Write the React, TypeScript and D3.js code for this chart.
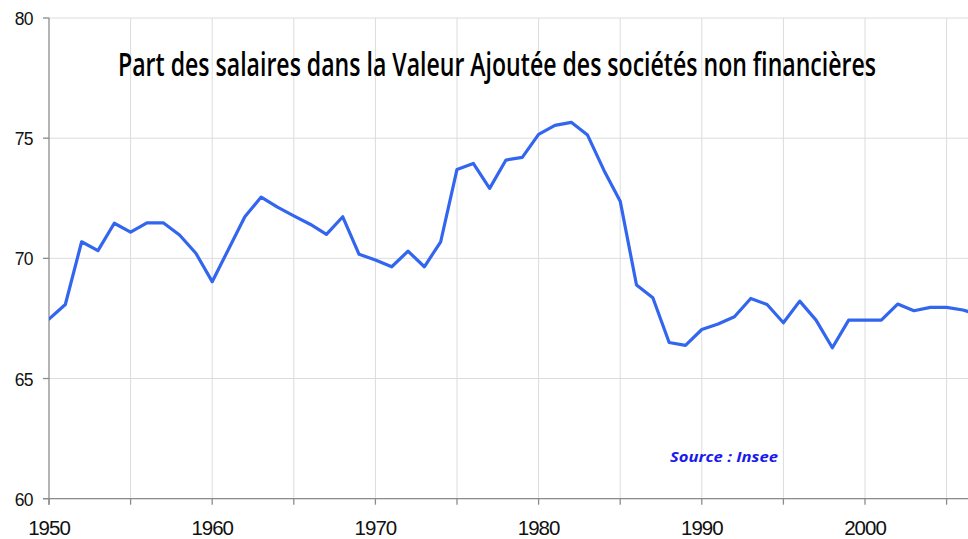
import React from "react";
import * as d3 from "d3";

const years: number[] = [
  1950, 1951, 1952, 1953, 1954, 1955, 1956, 1957, 1958, 1959,
  1960, 1961, 1962, 1963, 1964, 1965, 1966, 1967, 1968, 1969,
  1970, 1971, 1972, 1973, 1974, 1975, 1976, 1977, 1978, 1979,
  1980, 1981, 1982, 1983, 1984, 1985, 1986, 1987, 1988, 1989,
  1990, 1991, 1992, 1993, 1994, 1995, 1996, 1997, 1998, 1999,
  2000, 2001, 2002, 2003, 2004, 2005, 2006, 2007,
];
const salaryShare: number[] = [
  67.47, 68.08, 70.69, 70.32, 71.46, 71.09, 71.48, 71.48, 70.97, 70.21,
  69.03, 70.38, 71.73, 72.55, 72.13, 71.77, 71.42, 71.0, 71.73, 70.17,
  69.93, 69.65, 70.3, 69.65, 70.69, 73.7, 73.95, 72.91, 74.09, 74.2,
  75.16, 75.53, 75.66, 75.13, 73.67, 72.38, 68.89, 68.36, 66.5, 66.38,
  67.04, 67.27, 67.57, 68.33, 68.08, 67.32, 68.22, 67.43, 66.28, 67.43,
  67.43, 67.43, 68.1, 67.82, 67.96, 67.96, 67.85, 67.65,
];
const yTicks: number[] = [60, 65, 70, 75, 80];
const xLabelTicks: number[] = [1950, 1960, 1970, 1980, 1990, 2000];
const xGridTicks: number[] = [1950, 1955, 1960, 1965, 1970, 1975, 1980, 1985, 1990, 1995, 2000, 2005];
const titleText = "Part des salaires dans la Valeur Ajoutée des sociétés non financières";
const sourceText = "Source : Insee";

export default function App() {
  const W = 968;
  const H = 539;
  const left = 49;
  const right = 968;
  const top = 18;
  const bottom = 498.7;

  const x = d3.scaleLinear().domain([1950, 2000]).range([left, 865]);
  const xMax = x.invert(right);
  const y = d3.scaleLinear().domain([60, 80]).range([bottom, top]);

  const pts = years.map((yr, i) => [yr, salaryShare[i]] as [number, number]);
  const line = d3
    .line<[number, number]>()
    .x((d) => x(d[0]))
    .y((d) => y(d[1]));

  const grid = "#dcdcdc";
  const axisCol = "#8c8c8c";
  const tickFont = "'Liberation Sans', Arial, sans-serif";

  return (
    <svg
      width={W}
      height={H}
      style={{ position: "absolute", left: 0, top: 0, display: "block", background: "#fff" }}
    >
      <defs>
        <clipPath id="plotclip">
          <rect x={left} y={0} width={right - left} height={H} />
        </clipPath>
      </defs>
      <rect x={0} y={0} width={W} height={H} fill="#fff" />
      {yTicks.map((t) => (
        <line key={"hg" + t} x1={left} x2={right} y1={y(t)} y2={y(t)} stroke={grid} strokeWidth={1} />
      ))}
      {xGridTicks
        .filter((t) => t > 1950 && t <= xMax)
        .map((t) => (
          <line key={"vg" + t} x1={x(t)} x2={x(t)} y1={top} y2={bottom} stroke={grid} strokeWidth={1} />
        ))}
      <line x1={left} x2={left} y1={top} y2={bottom + 6} stroke={axisCol} strokeWidth={1.3} />
      <line x1={left - 6} x2={right} y1={bottom} y2={bottom} stroke={axisCol} strokeWidth={1.3} />
      {yTicks.map((t) => (
        <line key={"yt" + t} x1={left - 6} x2={left} y1={y(t)} y2={y(t)} stroke={axisCol} strokeWidth={1.3} />
      ))}
      {xGridTicks
        .filter((t) => t <= xMax)
        .map((t) => (
          <line key={"xt" + t} x1={x(t)} x2={x(t)} y1={bottom} y2={bottom + 6} stroke={axisCol} strokeWidth={1.3} />
        ))}
      {yTicks.map((t) => (
        <text
          key={"yl" + t}
          x={33}
          y={y(t) + 7}
          textAnchor="end"
          fontFamily={tickFont}
          fontSize={17.5}
          letterSpacing={-0.6}
          fill="#111"
        >
          {t}
        </text>
      ))}
      {xLabelTicks.map((t) => (
        <text
          key={"xl" + t}
          x={x(t)}
          y={535}
          textAnchor="middle"
          fontFamily={tickFont}
          fontSize={20.5}
          letterSpacing={-1}
          fill="#111"
        >
          {t}
        </text>
      ))}
      <g clipPath="url(#plotclip)">
        <path
          d={line(pts) || ""}
          fill="none"
          stroke="#3366ee"
          strokeWidth={3.2}
          strokeLinejoin="round"
          strokeLinecap="round"
        />
      </g>
      <g transform="translate(497,76) scale(1,1.333)">
        <text
          x={0}
          y={0}
          textAnchor="middle"
          fontFamily="'Open Sans', 'Noto Sans', sans-serif"
          fontSize={24}
          fontWeight={600}
          textLength={758}
          lengthAdjust="spacingAndGlyphs"
          fill="#000"
        >
          {titleText}
        </text>
      </g>
      <text
        x={670}
        y={462}
        fontFamily="'Open Sans', 'Noto Sans', sans-serif"
        fontSize={14}
        fontWeight="bold"
        fontStyle="italic"
        textLength={108}
        lengthAdjust="spacingAndGlyphs"
        fill="#1a1aee"
      >
        {sourceText}
      </text>
    </svg>
  );
}
